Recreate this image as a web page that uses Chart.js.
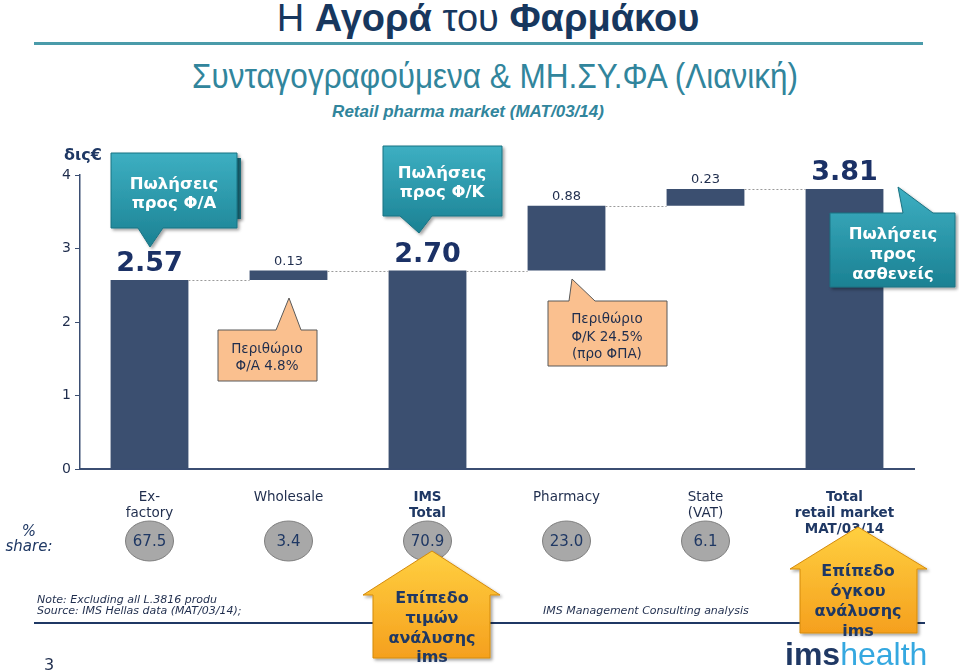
<!DOCTYPE html>
<html>
<head>
<meta charset="utf-8">
<script src="https://cdn.jsdelivr.net/npm/chart.js@4.4.1/dist/chart.umd.min.js"></script>
<style>
  body { margin: 0; background: #fff; width: 959px; height: 672px; overflow: hidden; position: relative; font-family: "DejaVu Sans", Verdana, sans-serif; }
  .abs { position: absolute; white-space: nowrap; }
  .narrow { font-family: "Liberation Sans Narrow", "Arial Narrow", "Liberation Sans", Arial, sans-serif; }
  #chartBox { position: absolute; left: 0; top: 0; width: 959px; height: 672px; }
</style>
</head>
<body>

<div class="abs narrow" style="left:0;width:976px;top:-4px;text-align:center;font-size:38px;line-height:44px;color:#17375E">Η <b>Αγορά</b> του <b>Φαρμάκου</b></div>
<div class="abs" style="left:34px;top:42px;width:889px;height:3px;background:#4A9BAA"></div>
<div class="abs narrow" style="left:0;width:990px;top:54px;text-align:center;font-size:35px;line-height:44px;color:#31859C;transform:scaleX(0.9);transform-origin:495px 0">Συνταγογραφούμενα &amp; ΜΗ.ΣΥ.ΦΑ (Λιανική)</div>
<div class="abs narrow" style="left:0;width:936px;top:102px;text-align:center;font-size:17px;font-style:italic;font-weight:bold;line-height:20px;color:#31859C">Retail pharma market (MAT/03/14)</div>

<div id="chartBox"><canvas id="waterfall" width="959" height="672"></canvas></div>

<div class="abs" style="left:64px;top:145px;font:bold 16px 'DejaVu Sans';line-height:20px;color:#1F3864">δις€</div>
<div class="abs" style="left:0;width:58px;top:524px;text-align:center;font:italic 15px 'DejaVu Sans';line-height:15px;color:#1F3864">%<br>share:</div>

<div class="abs" style="left:34px;top:622px;width:891px;height:2px;background:#1F3864"></div>
<div class="abs" style="left:37px;top:594px;font:italic 11px 'DejaVu Sans';line-height:11px;color:#1F2D4D">Note: Excluding all L.3816 produ<br>Source: IMS Hellas data (MAT/03/14);</div>
<div class="abs" style="left:543px;top:605px;font:italic 11px 'DejaVu Sans';line-height:12px;color:#1F2D4D">IMS Management Consulting analysis</div>
<div class="abs" style="left:44px;top:655px;font:16px 'DejaVu Sans';line-height:20px;color:#1F2D4D">3</div>
<div class="abs" style="left:785px;top:638px;font:32px 'Liberation Sans',Arial,sans-serif;line-height:32px;color:#35A8E0"><b style="color:#1F3864">ims</b>health</div>

<svg class="abs" style="left:0;top:0" width="959" height="672">
  <defs>
    <linearGradient id="teal" x1="0" y1="0" x2="0" y2="1">
      <stop offset="0" stop-color="#3DAFC2"/>
      <stop offset="1" stop-color="#1B8193"/>
    </linearGradient>
    <linearGradient id="gold" x1="0" y1="0" x2="0" y2="1">
      <stop offset="0" stop-color="#FFD040"/>
      <stop offset="1" stop-color="#F5A01E"/>
    </linearGradient>
    <filter id="shade" x="-20%" y="-20%" width="140%" height="140%">
      <feDropShadow dx="2" dy="2" stdDeviation="1.5" flood-color="#000" flood-opacity="0.35"/>
    </filter>
  </defs>

  <!-- teal callouts -->
  <rect x="120" y="158" width="121" height="61" fill="#1A7282" filter="url(#shade)"/>
  <path d="M111,153 H237 V228 H163 L150,247 L138,228 H111 Z" fill="url(#teal)" stroke="#1A7282" filter="url(#shade)"/>
  <g font-family="DejaVu Sans" font-weight="bold" font-size="16.5" fill="#fff" text-anchor="middle">
    <text x="174" y="189">Πωλήσεις</text>
    <text x="174" y="208">προς Φ/Α</text>
  </g>
  <path d="M383,146 H502 V216 H432 L419,233 L400,216 H383 Z" fill="url(#teal)" stroke="#1A7282" filter="url(#shade)"/>
  <g font-family="DejaVu Sans" font-weight="bold" font-size="16.5" fill="#fff" text-anchor="middle">
    <text x="442" y="178">Πωλήσεις</text>
    <text x="442" y="197">προς Φ/Κ</text>
  </g>
  <path d="M830,213 H903 L898,187 L933,213 H955 V287 H830 Z" fill="url(#teal)" stroke="#1A7282" filter="url(#shade)"/>
  <g font-family="DejaVu Sans" font-weight="bold" font-size="16.5" fill="#fff" text-anchor="middle">
    <text x="893" y="239">Πωλήσεις</text>
    <text x="893" y="259">προς</text>
    <text x="893" y="279">ασθενείς</text>
  </g>

  <!-- margin callouts -->
  <path d="M218,330 H276 L289,298 L301,330 H317 V381 H218 Z" fill="#FAC08F" stroke="#595959" stroke-width="1"/>
  <g font-family="DejaVu Sans" font-size="13.5" fill="#1F2D4D" text-anchor="middle">
    <text x="267" y="353">Περιθώριο</text>
    <text x="267" y="370">Φ/Α 4.8%</text>
  </g>
  <path d="M548,301 H569 L572,279 L595,301 H667 V366 H548 Z" fill="#FAC08F" stroke="#595959" stroke-width="1"/>
  <g font-family="DejaVu Sans" font-size="13.5" fill="#1F2D4D" text-anchor="middle">
    <text x="607" y="323">Περιθώριο</text>
    <text x="607" y="341">Φ/Κ 24.5%</text>
    <text x="607" y="358">(προ ΦΠΑ)</text>
  </g>

  <!-- level arrows -->
  <path d="M432,551 L500,595 L490,595 L490,658 L373,658 L373,595 L363,595 Z" fill="url(#gold)" stroke="#D48A0A" stroke-width="1" filter="url(#shade)"/>
  <g font-family="DejaVu Sans" font-weight="bold" font-size="16" fill="#1F3864" text-anchor="middle">
    <text x="432" y="603">Επίπεδο</text>
    <text x="432" y="623">τιμών</text>
    <text x="432" y="643">ανάλυσης</text>
    <text x="432" y="662">ims</text>
  </g>
  <path d="M858,527 L927,569 L917,569 L917,633 L800,633 L800,569 L790,569 Z" fill="url(#gold)" stroke="#D48A0A" stroke-width="1" filter="url(#shade)"/>
  <g font-family="DejaVu Sans" font-weight="bold" font-size="16" fill="#1F3864" text-anchor="middle">
    <text x="858" y="576">Επίπεδο</text>
    <text x="858" y="596">όγκου</text>
    <text x="858" y="616">ανάλυσης</text>
    <text x="858" y="636">ims</text>
  </g>
</svg>

<script>
// waterfall data (bn €)
const categories = [["Ex-", "factory"], "Wholesale", ["IMS", "Total"], "Pharmacy", ["State", "(VAT)"], ["Total", "retail market", "MAT/03/14"]];
const stepValues = [2.57, 0.13, 2.70, 0.88, 0.23, 3.81];
const barStart = [0, 2.57, 0, 2.70, 3.58, 0];
const barEnd = [2.57, 2.70, 2.70, 3.58, 3.81, 3.81];
const totalBars = [true, false, true, false, false, true];
const boldLabels = [false, false, true, false, false, true];
const shareValues = ["67.5", "3.4", "70.9", "23.0", "6.1", null];
const yTicks = [0, 1, 2, 3, 4];

const barColor = "#3B4F70";
const navy = "#1F3864";

// dotted links between consecutive bars
const connectorPlugin = {
  id: "connectors",
  afterDatasetsDraw(chart) {
    const ctx = chart.ctx;
    const meta = chart.getDatasetMeta(0);
    const y = chart.scales.y;
    ctx.save();
    ctx.strokeStyle = "#9A9A9A";
    ctx.lineWidth = 1;
    ctx.setLineDash([2, 2]);
    for (let i = 0; i < meta.data.length - 1; i++) {
      const a = meta.data[i], b = meta.data[i + 1];
      const py = Math.round(y.getPixelForValue(barEnd[i])) + 0.5;
      ctx.beginPath();
      ctx.moveTo(a.x + a.width / 2, py);
      ctx.lineTo(b.x - b.width / 2, py);
      ctx.stroke();
    }
    ctx.restore();
  }
};

// value labels above bars + share ellipses under the axis
const labelPlugin = {
  id: "valueLabels",
  afterDraw(chart) {
    const ctx = chart.ctx;
    const meta = chart.getDatasetMeta(0);
    const x = chart.scales.x;
    const y = chart.scales.y;
    ctx.save();
    ctx.textAlign = "center";
    ctx.textBaseline = "alphabetic";
    meta.data.forEach((bar, i) => {
      const top = y.getPixelForValue(barEnd[i]);
      if (totalBars[i]) {
        ctx.font = "bold 27px 'DejaVu Sans'";
        ctx.fillStyle = "#1B3166";
        ctx.fillText(stepValues[i].toFixed(2), bar.x, top - 9);
      } else {
        ctx.font = "13px 'DejaVu Sans'";
        ctx.fillStyle = "#1F2D4D";
        ctx.fillText(stepValues[i].toFixed(2), bar.x, top - 6);
      }
    });
    shareValues.forEach((v, i) => {
      if (v == null) return;
      const cx = x.getPixelForValue(i);
      const cy = 541;
      ctx.beginPath();
      ctx.ellipse(cx, cy, 24, 20, 0, 0, Math.PI * 2);
      ctx.fillStyle = "#A8A8A8";
      ctx.fill();
      ctx.strokeStyle = "#7F7F7F";
      ctx.lineWidth = 1;
      ctx.stroke();
      ctx.font = "15px 'DejaVu Sans'";
      ctx.fillStyle = navy;
      ctx.textBaseline = "middle";
      ctx.fillText(v, cx, cy + 1);
      ctx.textBaseline = "alphabetic";
    });
    ctx.restore();
  }
};

const ctx = document.getElementById("waterfall").getContext("2d");
const waterfall = new Chart(ctx, {
  type: "bar",
  data: {
    labels: categories,
    datasets: [{
      data: barStart.map((s, i) => [s, barEnd[i]]),
      backgroundColor: barColor,
      borderWidth: 0,
      barPercentage: 0.56,
      categoryPercentage: 1
    }]
  },
  options: {
    responsive: false,
    animation: false,
    layout: { padding: { left: 50, right: 45, top: 175, bottom: 103 } },
    plugins: { legend: { display: false }, tooltip: { enabled: false } },
    scales: {
      x: {
        grid: { display: false },
        border: { display: true, color: "#3B4E72", width: 2 },
        ticks: {
          autoSkip: false,
          maxRotation: 0,
          padding: 12,
          color: (c) => boldLabels[c.index] ? navy : "#1F2D4D",
          font: (c) => ({ family: "DejaVu Sans", size: 13.5, weight: boldLabels[c.index] ? "bold" : "normal" })
        },
        afterFit: (s) => { s.height = 100; s.paddingLeft = 0; s.paddingRight = 0; }
      },
      y: {
        min: 0,
        max: 4,
        afterBuildTicks: (s) => { s.ticks = yTicks.map((v) => ({ value: v })); },
        grid: { drawOnChartArea: false, drawTicks: true, tickLength: 5, color: "#3B4E72" },
        border: { display: true, color: "#3B4E72", width: 1.5 },
        ticks: { padding: 4, color: "#1F2D4D", font: { family: "DejaVu Sans", size: 14 } },
        afterFit: (s) => { s.width = 30; s.paddingTop = 0; s.paddingBottom = 0; }
      }
    }
  },
  plugins: [connectorPlugin, labelPlugin]
});
</script>
</body>
</html>
